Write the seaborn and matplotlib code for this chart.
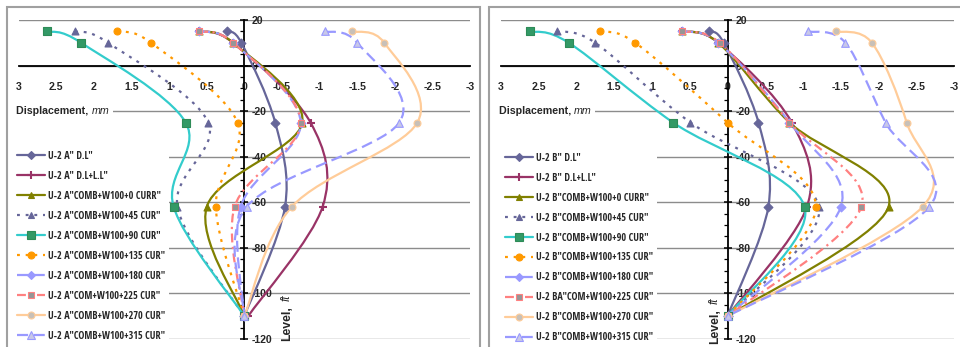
import numpy as np
import matplotlib
matplotlib.use("Agg")
import matplotlib.pyplot as plt
import seaborn as sns
from matplotlib.path import Path
from matplotlib.patches import PathPatch, Rectangle
from matplotlib.lines import Line2D
from matplotlib.font_manager import FontProperties, fontManager
from matplotlib.ticker import MultipleLocator, FixedLocator, FixedFormatter

# ---------------- data ----------------
levels = [15, 10, -25, -62, -110]

labels_A = ['U-2 A" D.L"', 'U-2 A" D.L+L.L"', 'U-2 A"COMB+W100+0 CURR"',
            'U-2 A"COMB+W100+45 CUR"', 'U-2 A"COMB+W100+90 CUR"',
            'U-2 A"COMB+W100+135 CUR"', 'U-2 A"COMB+W100+180 CUR"',
            'U-2 A"COM+W100+225 CUR"', 'U-2 A"COMB+W100+270 CUR"',
            'U-2 A"COMB+W100+315 CUR"']
labels_B = ['U-2 B" D.L"', 'U-2 B" D.L+L.L"', 'U-2 B"COMB+W100+0 CURR"',
            'U-2 B"COMB+W100+45 CUR"', 'U-2 B"COMB+W100+90 CUR"',
            'U-2 B"COMB+W100+135 CUR"', 'U-2 B"COMB+W100+180 CUR"',
            'U-2 BA"COM+W100+225 CUR"', 'U-2 B"COMB+W100+270 CUR"',
            'U-2 B"COMB+W100+315 CUR"']

A_DL = [0.23, 0.04, -0.41, -0.54, 0.0]
A_DLLL = [0.60, 0.15, -0.88, -1.04, -0.05]
A_0 = [0.60, 0.15, -0.77, 0.50, 0.0]
A_45 = [2.25, 1.81, 0.48, 0.89, 0.0]
A_90 = [2.62, 2.17, 0.78, 0.94, 0.0]
A_135 = [1.69, 1.24, 0.09, 0.38, 0.0]
A_180 = [0.60, 0.15, -0.75, 0.05, 0.0]
A_225 = [0.60, 0.15, -0.75, 0.13, 0.0]
A_270 = [-1.43, -1.86, -2.30, -0.63, 0.0]
A_315 = [-1.07, -1.50, -2.06, -0.03, 0.0]

B_DL = [0.24, 0.05, -0.41, -0.54, 0.0]
B_DLLL = [0.60, 0.12, -0.85, -1.05, 0.0]
B_0 = [0.60, 0.12, -0.82, -2.13, 0.0]
B_45 = [2.26, 1.75, 0.49, -1.21, 0.0]
B_90 = [2.61, 2.10, 0.72, -1.02, 0.0]
B_135 = [1.69, 1.22, 0.0, -1.17, 0.0]
B_180 = [0.60, 0.12, -0.82, -1.50, 0.0]
B_225 = [0.60, 0.10, -0.82, -1.77, 0.0]
B_270 = [-1.43, -1.91, -2.37, -2.58, 0.0]
B_315 = [-1.07, -1.56, -2.09, -2.67, 0.0]

series_A = [A_DL, A_DLLL, A_0, A_45, A_90, A_135, A_180, A_225, A_270, A_315]
series_B = [B_DL, B_DLLL, B_0, B_45, B_90, B_135, B_180, B_225, B_270, B_315]

x_ticks = [3, 2.5, 2, 1.5, 1, 0.5, 0, -0.5, -1, -1.5, -2, -2.5, -3]
x_tick_labels = ['3', '2.5', '2', '1.5', '1', '0.5', '0', '-0.5', '-1', '-1.5', '-2', '-2.5', '-3']
y_ticks = [20, 0, -20, -40, -60, -80, -100, -120]
y_tick_labels = ['20', '0', '-20', '-40', '-60', '-80', '-100', '-120']

# ---------------- styles ----------------
DOT = (0, (1.3, 2.6))
LDASH = (0, (5, 2.5))
DASHDOT = (0, (4, 2, 1, 2))
styles = [
    dict(color='#666699', ls='-', marker='D', mfc='#666699', mec='#666699', ms=4.5),
    dict(color='#993366', ls='-', marker='+', mfc='#993366', mec='#993366', ms=6),
    dict(color='#808000', ls='-', marker='^', mfc='#808000', mec='#808000', ms=5),
    dict(color='#666699', ls=DOT, marker='^', mfc='#666699', mec='#666699', ms=5),
    dict(color='#33CCCC', ls='-', marker='s', mfc='#339966', mec='#2E8B57', ms=5.5),
    dict(color='#FF9900', ls=DOT, marker='o', mfc='#FF9900', mec='#FF9900', ms=5),
    dict(color='#9999FF', ls=LDASH, marker='D', mfc='#9999FF', mec='#9999FF', ms=4.5),
    dict(color='#FF8080', ls=DASHDOT, marker='s', mfc='#969696', mec='#FF8080', ms=5),
    dict(color='#FFCC99', ls='-', marker='o', mfc='#C8C0B8', mec='#FFCC99', ms=5),
    dict(color='#9999FF', ls=LDASH, marker='^', mfc='#C8C8E8', mec='#9999FF', ms=5.5),
]
LW = 1.6

sns.set_style("white")
plt.rcParams['font.family'] = ['Liberation Sans', 'DejaVu Sans']

W, H = 960, 347
fig = plt.figure(figsize=(W / 100, H / 100), dpi=100)
renderer = fig.canvas.get_renderer()


def pick_legend_font(sample, target_px, max_size=7.4):
    """Pick the installed bold sans face giving the narrowest text, sized to target width."""
    keys = ('liberation', 'dejavu', 'roboto', 'open sans', 'lato', 'inter', 'noto sans')
    best = None
    seen = set()
    for f in fontManager.ttflist:
        name = f.name.lower()
        if not any(k in name for k in keys) or 'cjk' in name or 'mono' in name or 'serif' in name.replace('sans', ''):
            continue
        w = f.weight if isinstance(f.weight, int) else (700 if 'bold' in str(f.weight) else 400)
        if w < 600 or w > 800 or str(f.style) != 'normal':
            continue
        if f.fname in seen:
            continue
        seen.add(f.fname)
        try:
            prop = FontProperties(fname=f.fname, size=max_size)
            wpx, hpx, d = renderer.get_text_width_height_descent(sample, prop, ismath=False)
        except Exception:
            continue
        if best is None or wpx < best[0]:
            best = (wpx, f.fname)
    if best is None:
        prop = FontProperties(family=['Liberation Sans', 'DejaVu Sans'], weight='bold', size=max_size)
        wpx = renderer.get_text_width_height_descent(sample, prop, ismath=False)[0]
        best = (wpx, None)
    size = min(max_size, max_size * target_px / best[0])
    if best[1]:
        return FontProperties(fname=best[1], size=size)
    return FontProperties(family=['Liberation Sans', 'DejaVu Sans'], weight='bold', size=size)


leg_font = pick_legend_font(labels_A[9], 117.0)


def fx(px):
    return px / W


def fy(py):
    return 1 - py / H


def smooth_path(xs, ys, t=1 / 6):
    pts = np.column_stack([xs, ys]).astype(float)
    n = len(pts)
    verts = [pts[0]]
    codes = [Path.MOVETO]
    for i in range(n - 1):
        p0 = pts[i - 1] if i > 0 else pts[i]
        p1 = pts[i]
        p2 = pts[i + 1]
        p3 = pts[i + 2] if i + 2 < n else pts[i + 1]
        verts += [p1 + (p2 - p0) * t, p2 - (p3 - p1) * t, p2]
        codes += [Path.CURVE4] * 3
    return Path(verts, codes)


def draw_panel(left_px, right_px, series, labels, leg_x_px, leg_top_px, disp_x_px):
    ax = fig.add_axes([fx(left_px), fy(339), fx(right_px - left_px), (339 - 20) / H])
    ax.set_xlim(3, -3)
    ax.set_ylim(-120, 20)
    ax.patch.set_alpha(0)

    for vals, st in zip(series, styles):
        patch = PathPatch(smooth_path(vals, levels), facecolor='none', edgecolor=st['color'],
                          lw=LW, linestyle=st['ls'], capstyle='butt', zorder=3)
        ax.add_patch(patch)
        filled = st['marker'] != '+'
        sns.scatterplot(x=vals, y=levels, ax=ax, marker=st['marker'],
                        s=st['ms'] ** 2, color=st['mfc'],
                        edgecolor=st['mec'] if filled else None,
                        linewidth=0.8 if filled else 1.5, zorder=4, legend=False)

    for s in ['top', 'left']:
        ax.spines[s].set_visible(False)
    ax.spines['bottom'].set_position(('data', 0))
    ax.spines['right'].set_position(('data', 0))
    for s in ['bottom', 'right']:
        ax.spines[s].set_color('black')
        ax.spines[s].set_linewidth(1.3)
        ax.spines[s].set_zorder(2.5)
    ax.yaxis.tick_right()
    ax.xaxis.set_major_locator(FixedLocator(x_ticks))
    ax.xaxis.set_major_formatter(FixedFormatter(x_tick_labels))
    ax.xaxis.set_minor_locator(MultipleLocator(0.1))
    ax.yaxis.set_major_locator(FixedLocator(y_ticks))
    ax.yaxis.set_major_formatter(FixedFormatter(y_tick_labels))
    ax.yaxis.set_minor_locator(MultipleLocator(5))
    ax.tick_params(axis='x', which='major', direction='inout', length=6, width=1.1,
                   pad=9, labelsize=7.6, color='black')
    ax.tick_params(axis='x', which='minor', direction='in', length=3, width=0.9, color='black')
    ax.tick_params(axis='y', which='major', direction='inout', length=6, width=1.1,
                   pad=2.5, labelsize=7.6, color='black', right=True, left=False)
    ax.tick_params(axis='y', which='minor', direction='in', length=3, width=0.9,
                   color='black', right=True, left=False)
    for lab in ax.get_xticklabels() + ax.get_yticklabels():
        lab.set_fontweight('bold')
    ax.grid(False)
    ax.grid(axis='y', which='major', color='#8C8C8C', lw=1.0, zorder=1)
    ax.set_axisbelow(True)

    handles = [Line2D([0], [0], color=st['color'], ls=st['ls'], lw=LW, marker=st['marker'],
                      mfc=st['mfc'], mec=st['mec'], ms=st['ms'],
                      mew=0.8 if st['marker'] != '+' else 1.5, dash_capstyle='butt')
               for st in styles]
    fs_px = leg_font.get_size_in_points() * 100 / 72
    leg = ax.legend(handles, labels, loc='upper left', prop=leg_font,
                    bbox_to_anchor=(fx(leg_x_px), fy(leg_top_px)), bbox_transform=fig.transFigure,
                    borderaxespad=0, borderpad=4.0 / fs_px, handlelength=28.0 / fs_px,
                    handletextpad=3.0 / fs_px, labelspacing=9.0 / fs_px,
                    frameon=True, fancybox=False, framealpha=1)
    leg.get_frame().set_facecolor('white')
    leg.get_frame().set_edgecolor('white')
    leg.get_frame().set_linewidth(0)
    leg.set_zorder(6)

    t1 = fig.text(fx(disp_x_px), fy(111.5), 'Displacement, ', fontsize=7.7, fontweight='bold',
                  ha='left', va='center',
                  bbox=dict(facecolor='white', edgecolor='none', pad=2.5))
    bb = t1.get_window_extent(renderer)
    fig.text(bb.x1 / W, fy(111.5), 'mm', fontsize=7.7, fontstyle='italic', ha='left', va='center',
             bbox=dict(facecolor='white', edgecolor='none', pad=2.5))
    return ax


for (x0, x1) in [(7, 480), (489, 975)]:
    fig.add_artist(Rectangle((fx(x0), fy(360)), fx(x1 - x0), (360 - 7) / H, transform=fig.transFigure,
                             facecolor='none', edgecolor='#A0A0A0', lw=1.5, zorder=10, clip_on=False))

axA = draw_panel(18.7, 470.0, series_A, labels_A, 12.5, 147.0, 16.5)
axB = draw_panel(500.7, 954.3, series_B, labels_B, 501.0, 148.5, 499.0)

for xp, ft_c, lv_top in [(287, 297.5, 306.5), (715, 301, 309.5)]:
    fig.text(fx(xp), fy(ft_c), 'ft', rotation=90, fontsize=8.4, fontstyle='italic',
             ha='center', va='center')
    fig.text(fx(xp), fy(lv_top), 'Level,', rotation=90, fontsize=8.8, fontweight='bold',
             ha='center', va='top')

fig.savefig('out.png', dpi=100)
